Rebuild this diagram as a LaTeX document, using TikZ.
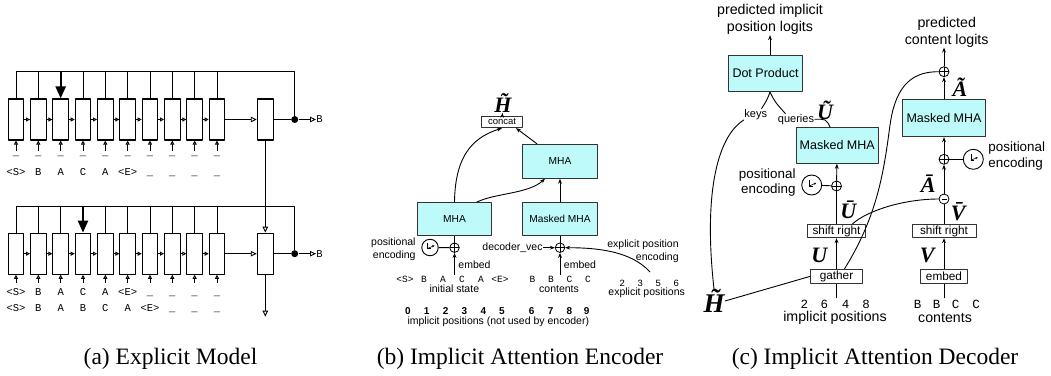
\documentclass[tikz,border=0pt]{standalone}
\usepackage{fontspec}
\setmainfont{Liberation Serif}
\setsansfont{Liberation Sans}
\setmonofont{Liberation Mono}
\usetikzlibrary{arrows.meta}
\definecolor{mhacyan}{RGB}{190,250,250}
\begin{document}
\begin{tikzpicture}[x=1pt, y=-1pt, line join=round, line width=0.9pt, >={Stealth[length=5pt,width=3.8pt]},
  cell/.style={draw, line width=1.1pt, minimum width=15.5pt, minimum height=41pt, inner sep=0pt},
  ho/.style={-{Triangle[length=6pt,width=5.5pt,fill=white]}},
  hos/.style={-{Triangle[length=4pt,width=4pt,fill=white]}},
  big/.style={-{Triangle[length=12pt,width=10pt]}, line width=2.2pt},
  jdot/.style={circle, fill, inner sep=0pt, minimum size=7pt},
  tok/.style={font=\ttfamily\fontsize{10.5}{12}\selectfont, inner sep=0pt, anchor=base},
  tokb/.style={tok, font=\ttfamily\fontsize{9.5}{11}\selectfont},
  tokc/.style={tok, font=\ttfamily\fontsize{12.5}{14}\selectfont},
  mha/.style={draw=black!80, fill=mhacyan, inner sep=0pt, font=\sffamily\fontsize{10.2}{12}\selectfont},
  mhac/.style={mha, font=\sffamily\fontsize{12.5}{14}\selectfont},
  opbox/.style={draw=black!80, fill=white, inner sep=0pt, font=\sffamily\fontsize{11.8}{13}\selectfont},
  addc/.style={circle, draw, inner sep=0pt, minimum size=9.5pt, line width=0.8pt, path picture={
    \draw (path picture bounding box.north) -- (path picture bounding box.south)
          (path picture bounding box.west) -- (path picture bounding box.east);}},
  subc/.style={circle, draw, inner sep=0pt, minimum size=10pt, line width=0.8pt, path picture={
    \draw ([xshift=-2.5pt]path picture bounding box.center) -- ([xshift=2.5pt]path picture bounding box.center);}},
  pecirc/.style={circle, draw, inner sep=0pt, minimum size=16.5pt, path picture={
    \draw[shift={(path picture bounding box.center)}, line width=0.6pt] (-2.5,-5) -- (-2.5,1) -- (1,1);
    \draw[shift={(path picture bounding box.center)}, line width=0.6pt, -{Stealth[length=2.5pt,width=2.2pt]}] (-2.5,1) -- (4.5,-2);}},
  lab/.style={font=\sffamily\fontsize{10.5}{13}\selectfont, inner sep=0pt},
  labs/.style={font=\sffamily\fontsize{11}{13}\selectfont, inner sep=0pt},
  labc/.style={font=\sffamily\fontsize{14.2}{17}\selectfont, inner sep=0pt},
  labp/.style={font=\sffamily\fontsize{13.4}{15.5}\selectfont, inner sep=0pt},
  vsym/.style={font=\bfseries\itshape\fontsize{22}{24}\selectfont, inner sep=0pt},
  capt/.style={font=\fontsize{23.5}{28}\selectfont, inner sep=0pt, anchor=base}]
\useasboundingbox (0,0) rectangle (1051,375);
\def\dx{22.33}
% (a) explicit model
\foreach \i in {0,...,9}{
  \node[cell] (t\i) at (16+\dx*\i,119.5) {};
  \node[cell] (b\i) at (16+\dx*\i,253.7) {};
  \draw[hos] (t\i.south) ++(0,10) -- (t\i.south);
  \draw[hos] (b\i.south) ++(0,8) -- (b\i.south);
  \node[tok] (u\i) at (16+\dx*\i,155) {\_};
}
\foreach \i [count=\j] in {0,...,8}{
  \draw[hos] (t\i.east) -- (t\j.west);
  \draw[hos] (b\i.east) -- (b\j.west);
}
\foreach \i/\s in {0/<S>,1/B,2/A,3/C,4/A,5/<E>,6/\_,7/\_,8/\_,9/\_}{
  \node[tok] (ta\i) at (16+\dx*\i,175.5) {\s};
  \node[tok] (ba\i) at (16+\dx*\i,295.5) {\s};
}
\foreach \i/\s in {0/<S>,1/B,2/A,3/B,4/C,5/A,6/<E>,7/\_,8/\_,9/\_}
  \node[tok] (bb\i) at (16+\dx*\i,311.7) {\s};
\node[cell, minimum width=16pt] (rt) at (265.3,119.5) {};
\node[cell, minimum width=16pt] (rb) at (265.3,253.7) {};
\node[jdot] (dT) at (294.7,119.5) {};
\node[jdot] (dB) at (294.7,253.7) {};
\node[tok, anchor=west] (oT) at (316,119.5) {B};
\node[tok, anchor=west] (oB) at (316,253.7) {B};
\coordinate (busT) at (294.7,71.7);
\coordinate (busB) at (294.7,206);
\coordinate (outB) at (265.3,316.7);
\draw (t0.north) |- (busT) -- (dT);
\draw (b0.north) |- (busB) -- (dB);
\foreach \i in {1,3,4,...,9} \draw (t\i.north) -- (t\i.north |- busT);
\foreach \i in {1,2,4,5,...,9} \draw (b\i.north) -- (b\i.north |- busB);
\draw[big] (t2.north |- busT) -- (t2.north);
\draw[big] (b3.north |- busB) -- (b3.north);
\draw[ho] (t9.east) -- (rt.west);
\draw[ho] (b9.east) -- (rb.west);
\draw (rt.east) -- (dT); \draw (rb.east) -- (dB);
\draw[ho] (dT) -- (oT); \draw[ho] (dB) -- (oB);
\draw[ho] (rt.south) -- (rb.north);
\draw[ho] (rb.south) -- (outB);
\node[capt] (capa) at (170.5,364) {(a) Explicit Model};
% (b) implicit attention encoder
\node[vsym] (Hb) at (503,103) {\~H};
\node[opbox, minimum width=40.6pt, minimum height=11.7pt, font=\sffamily\fontsize{9.5}{11}\selectfont] (cat) at (502,121.8) {concat};
\node[mha, minimum width=74.6pt, minimum height=34pt] (mhaU) at (560,161.3) {MHA};
\node[mha, minimum width=74.4pt, minimum height=33pt] (mhaL) at (454.5,219.2) {MHA};
\node[mha, minimum width=74.6pt, minimum height=33pt] (mmB) at (560,219.2) {Masked MHA};
\node[addc] (pL) at (454.5,247.7) {};
\node[addc] (pR) at (560,247.7) {};
\node[pecirc] (peB) at (430,247.5) {};
\node[lab, align=right, anchor=east] (peBt) at (416,249.5) {positional\\encoding};
\node[lab, anchor=east] (dv) at (543,247.7) {decoder\_vec};
\node[lab, align=right] (epe) at (643,251.5) {explicit position\\encoding};
\node[lab, anchor=west] (emL) at (458,265) {embed};
\node[lab, anchor=west] (emR) at (563.5,265) {embed};
\coordinate (eL) at (454.5,275);
\coordinate (eR) at (560,275);
\coordinate (ex) at (650,272);
\foreach \k/\s in {0/<S>,1/B,2/A,3/C,4/A,5/<E>}
  \node[tokb] (s\k) at (405+19*\k,282.5) {\s};
\foreach \k/\s in {0/B,1/B,2/C,3/C}
  \node[tokb] (c\k) at (532.5+18.5*\k,282.5) {\s};
\foreach \k/\s in {0/2,1/3,2/5,3/6}
  \node[tokb] (x\k) at (622.3+18*\k,286) {\s};
\node[lab] (ist) at (454.3,288.5) {initial state};
\node[lab] (cnt) at (559,289) {contents};
\node[lab] (exp) at (646.7,293) {explicit positions};
\foreach \k/\x in {0/408,1/426.7,2/445.7,3/464.3,4/483.3,5/502,6/531.7,7/550.7,8/569.3,9/586.7}
  \node[lab, anchor=base, font=\sffamily\bfseries\fontsize{10}{12}\selectfont] (n\k) at (\x,314.5) {\k};
\node[lab] (ipn) at (498.3,321.7) {implicit positions (not used by encoder)};
\draw[->] (cat) -- (Hb);
\draw[->] (mhaL.north) .. controls (455,150) and (478,136) .. (cat.south);
\draw[->] ([xshift=22pt]mhaL.north) .. controls (495,193) and (528,194) .. ([xshift=-15pt]mhaU.south);
\draw[->] ([xshift=-23pt]mhaU.north) -- ([xshift=14pt]cat.south);
\draw[->] (mmB) -- (mhaU);
\draw (mhaL) -- (pL); \draw (mmB) -- (pR); \draw (peB) -- (pL);
\draw[->] (eL) -- (pL); \draw[->] (eR) -- (pR);
\draw[->] (dv) -- (pR);
\draw[->] (ex) .. controls (632,252) and (600,247.7) .. (pR.east);
\node[capt] (capb) at (520,364) {(b) Implicit Attention Encoder};
% (c) implicit attention decoder
\node[labc, align=center] (pil) at (770,19.5) {predicted implicit\\position logits};
\node[mhac, minimum width=74.4pt, minimum height=36.7pt] (dp) at (765.5,73.3) {Dot Product};
\node[labs] (kys) at (755.7,114.3) {keys};
\node[labs] (qry) at (796,119.3) {queries};
\node[vsym] (Ut) at (825,110) {\~U};
\node[mhac, minimum width=82.3pt, minimum height=35.6pt] (mmL) at (837.2,145.5) {Masked MHA};
\node[mhac, minimum width=82.3pt, minimum height=37.4pt] (mmR) at (944,118) {Masked MHA};
\node[addc, minimum size=10pt] (pT) at (944,71.7) {};
\node[labc, align=center] (pcl) at (946.7,32) {predicted\\content logits};
\node[vsym] (At) at (960,87.3) {\~A};
\node[addc, minimum size=10pt] (pR2) at (944,159.3) {};
\node[pecirc, minimum size=20pt] (peR) at (973.3,159.3) {};
\node[labp, align=left, anchor=west] (peRt) at (988,155.8) {positional\\encoding};
\node[subc] (mn) at (944,199) {};
\node[vsym] (Ab) at (928.3,183.3) {\=A};
\node[vsym] (Vb) at (958.3,211.7) {\=V};
\node[opbox, minimum width=64pt, minimum height=13.4pt] (shR) at (944,231) {shift right};
\node[vsym] (Vv) at (927.3,255) {V};
\node[opbox, minimum width=47.4pt, minimum height=14pt] (emb) at (944,276.3) {embed};
\coordinate (cR) at (944,298.3);
\node[addc, minimum size=10pt] (pL2) at (836.5,186) {};
\node[pecirc, minimum size=20pt] (peL) at (811.7,185) {};
\node[labp, align=right, anchor=east] (peLt) at (796,182.3) {positional\\encoding};
\node[vsym] (Ub) at (848.3,210) {\=U};
\node[opbox, minimum width=58.3pt, minimum height=13.4pt] (shL) at (836.5,231) {shift right};
\node[vsym] (Uv) at (819.3,255) {U};
\node[opbox, minimum width=51.4pt, minimum height=14pt] (gat) at (836.5,276.3) {gather};
\coordinate (cL) at (836.5,298.3);
\node[vsym, font=\bfseries\itshape\fontsize{27}{29}\selectfont] (Hc) at (714,301) {\~H};
\foreach \k/\x/\s in {0/804.3/2,1/824.3/6,2/845.7/4,3/866/8}
  \node[tokc] (m\k) at (\x,308.3) {\s};
\foreach \k/\x/\s in {0/917.7/B,1/936.7/B,2/955.7/C,3/976/C}
  \node[tokc] (v\k) at (\x,308.3) {\s};
\node[labc] (ipc) at (835,318.3) {implicit positions};
\node[labc] (cnc) at (945,318.3) {contents};
\coordinate (dj) at (dp.south -| pil);
\draw[->] (dp.north -| pil) -- (pil);
\draw (dj) .. controls (767,100) .. ([xshift=-6pt]kys.north east);
\draw (dj) .. controls (775,102) .. ([xshift=8pt]qry.north west);
\draw (qry.east) .. controls (826,119) .. ([xshift=-7pt]mmL.north);
\draw (kys.south west) .. controls (715,138) and (704,200) .. (Hc.north);
\draw[->] (mmR) -- (pT);
\draw[->] (pT) -- (pT |- pcl.south);
\draw[->] (pL2) -- (mmL); \draw (peL) -- (pL2); \draw (shL) -- (pL2);
\draw[->] (gat) -- (shL); \draw (cL) -- (gat);
\draw (gat.west) -- (Hc.east);
\draw ([xshift=8pt]gat.north) .. controls (878,215) and (884,170) .. (890,125) .. controls (896,82) and (915,71.7) .. (pT.west);
\draw ([xshift=16pt]shL.north) .. controls (868,210) and (905,199) .. (mn.west);
\draw[->] (mn) -- (pR2); \draw[->] (pR2) -- (mmR); \draw (peR) -- (pR2);
\draw (shR) -- (mn); \draw[->] (emb) -- (shR); \draw (cR) -- (emb);
\node[capt] (capc) at (875,364) {(c) Implicit Attention Decoder};
\end{tikzpicture}
\end{document}
